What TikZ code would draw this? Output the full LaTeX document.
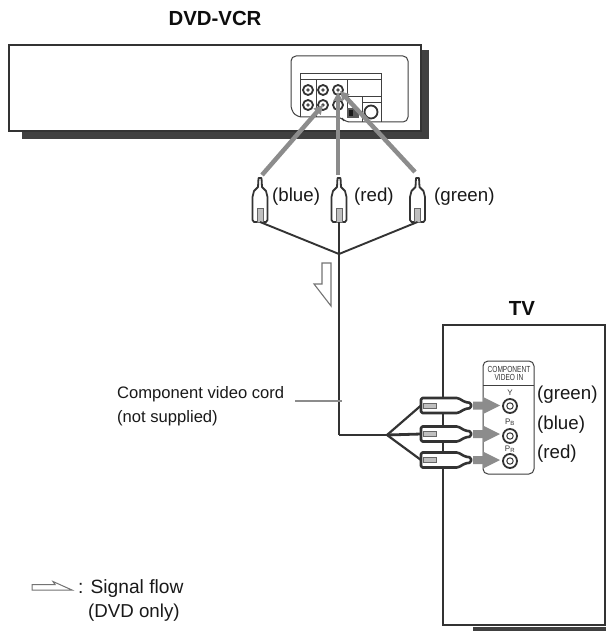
\documentclass[tikz,border=0pt]{standalone}
\usepackage{fontspec}
\setmainfont{Liberation Sans}
\usetikzlibrary{arrows.meta}
\definecolor{edge}{gray}{0.2}
\definecolor{castshadow}{gray}{0.25}
\definecolor{flow}{gray}{0.55}
\tikzset{
  lab/.style={inner sep=0pt,anchor=west,font=\fontsize{18.7}{20}\selectfont,text=black!90},
  cordlab/.style={inner sep=0pt,anchor=west,font=\fontsize{16.6}{20}\selectfont,text=black!90},
  title/.style={inner sep=0pt,font=\bfseries\fontsize{20.4}{22}\selectfont,text=black!95},
  box/.style={draw=edge,line width=2.8pt,fill=white},
  thin panel/.style={draw=black!75,line width=1pt,fill=white},
  cable/.style={draw=edge,line width=1.9pt},
  thick cable/.style={draw=edge,line width=2.8pt},
  plugline/.style={draw=edge,line width=1.8pt,fill=white,line join=round},
  plugthick/.style={draw=edge,line width=2.6pt,fill=white,line join=round},
  flowline/.style={draw=flow,line width=4.5pt,-{Triangle[width=9pt,length=9pt]}},
  hollow/.style={draw=black!55,line width=1.1pt,fill=white,line join=miter},
  jack/.style={circle,draw=black!80,line width=1.8pt,fill=white,inner sep=0pt,minimum size=#1},
  tiny/.style={inner sep=0pt,text=black!80,font=\fontsize{8}{9}\selectfont}
}
\newcommand{\vplug}[2]{% centre x, name
  \begin{scope}[shift={(#1,0)}]
    \draw[plugline] (-1.5,178) -- (1.5,178) -- (2,187) -- (6,191) -- (7.5,197) -- (7.5,220) -- (6,222) -- (-6,222) -- (-7.5,220) -- (-7.5,197) -- (-6,191) -- (-2,187) -- cycle;
    \draw[draw=black!60,line width=0.7pt,fill=black!25] (-3,208) rectangle (3,222);
    \coordinate (#2) at (0,222);
  \end{scope}}
\newcommand{\hplug}[2]{% centre y, name
  \begin{scope}[shift={(0,#1)}]
    \draw[plugthick,rounded corners=1.5pt] (421,-7.5) -- (458,-7.5) -- (465,-3.5) -- (471,-2.5) -- (471,2.5) -- (465,3.5) -- (458,7.5) -- (421,7.5) -- cycle;
    \draw[draw=black!60,line width=0.7pt,fill=black!25] (423,-2.5) rectangle (436,2.5);
    \coordinate (#2) at (421,0);
  \end{scope}}
\newcommand{\hflow}[1]{%
  \fill[flow] (473,#1-4) -- (483,#1-4) -- (483,#1-8.5) -- (500,#1) -- (483,#1+8.5) -- (483,#1+4) -- (473,#1+4) -- cycle;}
\begin{document}
\begin{tikzpicture}[x=1pt,y=-1pt]
\useasboundingbox (0,0) rectangle (606,631);
% DVD-VCR
\fill[castshadow] (22,50) rectangle (429,139);
\draw[box] (9,45) rectangle (421,131);
\node[title] (vcrlabel) at (215,18) {DVD-VCR};
% rear panel
\draw[thin panel,rounded corners=5pt] (291,56) -- (408,56) -- (408,122) -- (345,122) -- (341,117) -- (297,117) -- (291,110) -- cycle;
\draw[draw=black!75,line width=1pt] (300,117) -- (300,74) -- (381,74) -- (381,122);
\draw[draw=black!75,line width=1pt] (300,80) -- (381,80);
\draw[draw=black!75,line width=1pt] (316,80) -- (316,117) (347,80) -- (347,117) (347,97) -- (381,97) (362,97) -- (362,122) (362,103) -- (381,103);
\foreach \n/\x/\y in {a/308/90,b/323/90,c/338/90,d/308/105,e/323/105,f/338/105}{
  \node[jack=10pt] (j\n) at (\x,\y) {};
  \fill[black!70] (\x,\y) circle (1.8pt);
}
\node[jack=13pt] (jg) at (371,112) {};
\fill[black!65] (347,108) rectangle (359,118);
\fill[black!90] (349,110) rectangle (353,116);
% signal lines to the recorder
\coordinate (bt) at (262,175);
\coordinate (rt) at (338,175);
\coordinate (gt) at (415,172);
\draw[flowline] (bt) -- (323,105);
\draw[flowline] (rt) -- (338,92);
\draw[flowline] (gt) -- (340,91);
% plugs
\vplug{260}{pb}
\vplug{339}{pr}
\vplug{417.5}{pg}
\node[lab] (lblue) at (272,197) {(blue)};
\node[lab] (lred) at (354,197) {(red)};
\node[lab] (lgreen) at (434,197) {(green)};
% TV
\fill[castshadow] (473,627) rectangle (606,631);
\draw[draw=edge,line width=2.8pt,fill=white] (443,325) rectangle (605,625);
\node[title] (tvlabel) at (522,308) {TV};
\draw[thin panel,rounded corners=5pt] (483,474) -- (483,361) -- (534,361) -- (534,474) -- cycle;
\draw[draw=black!75,line width=1pt] (483,385) -- (534,385);
\node[tiny,align=center] (compin) at (509,373) {\scalebox{0.82}[1.1]{COMPONENT}\\[-1pt]\scalebox{0.82}[1.1]{VIDEO IN}};
\node[tiny] (ty) at (510,393) {Y};
\node[tiny] (tpb) at (510,422) {P\textsubscript{B}};
\node[tiny] (tpr) at (510,449) {P\textsubscript{R}};
\foreach \n/\y in {y/406,b/436,r/461}{
  \node[jack=14pt] (tj\n) at (510,\y) {};
  \draw[black!80,line width=1pt] (510,\y) circle (3.2pt);
}
\node[lab] (lg2) at (537,395) {(green)};
\node[lab] (lb2) at (537,425) {(blue)};
\node[lab] (lr2) at (537,454) {(red)};
% cord
\coordinate (fork) at (339,254);
\coordinate (corner) at (339,435);
\coordinate (hfork) at (387,435);
\draw[cable] (pb) -- (fork);
\draw[cable] (pg) -- (fork);
\draw[cable] (pr) -- (fork) -- (corner);
\draw[thick cable] (corner) -- (hfork);
\hplug{405.5}{hy}
\hplug{434}{hb}
\hplug{460}{hr}
\draw[thick cable,line width=2.2pt] (hfork) -- (hy);
\draw[thick cable] (hfork) -- (hb);
\draw[thick cable,line width=2.2pt] (hfork) -- (hr);
\hflow{405.5}
\hflow{434}
\hflow{460}
% signal flow arrow
\draw[hollow] (322,263) -- (331,263) -- (331,306) -- (314,284) -- (322,284) -- cycle;
% cord label
\node[cordlab] (cordname) at (117,394) {Component video cord};
\node[cordlab] (cordnote) at (117,418) {(not supplied)};
\coordinate (leadstart) at (295,401);
\coordinate (leadend) at (342,401);
\draw[draw=flow,line width=1.8pt] (leadstart) -- (leadend);
% legend
\draw[hollow,line width=1pt] (32,584.5) -- (55,584.5) -- (53,581.5) -- (72,590) -- (32,590) -- cycle;
\node[lab,font=\fontsize{19.2}{20}\selectfont] (legendone) at (78,589) {: Signal flow};
\node[lab] (legendtwo) at (88,613) {(DVD only)};
\end{tikzpicture}
\end{document}
